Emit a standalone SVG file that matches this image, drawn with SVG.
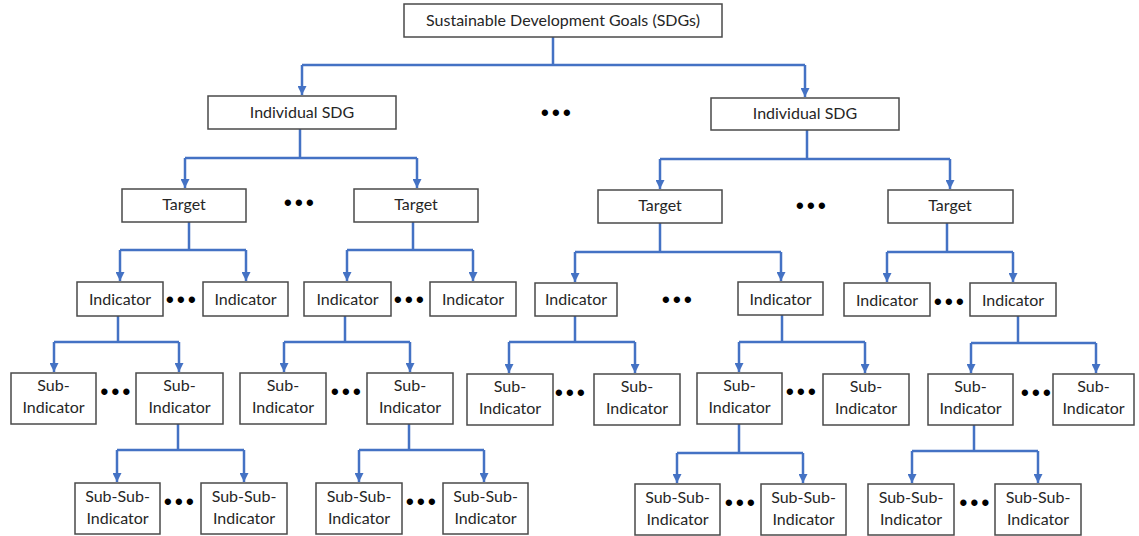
<svg xmlns="http://www.w3.org/2000/svg" width="1139" height="536" viewBox="0 0 1139 536">
<defs>
<marker id="ah" markerWidth="9" markerHeight="9" refX="9" refY="4.5" orient="auto" markerUnits="userSpaceOnUse" viewBox="0 0 9 9">
<path d="M0,0 L9,4.5 L0,9 Z" fill="#4472C4"/>
</marker>
<style>
.b{fill:#fff;stroke:#4a4a4a;stroke-width:1.5}
.t{font-family:Lato,"Liberation Sans",sans-serif;font-size:16px;fill:#262626;text-anchor:middle}
.d{font-family:"Liberation Sans",Arial,sans-serif;font-size:22px;font-weight:bold;fill:#000;text-anchor:middle;letter-spacing:3.3px}
.c{fill:none;stroke:#4472C4;stroke-width:2.5}
.a{fill:none;stroke:#4472C4;stroke-width:2.5;marker-end:url(#ah)}
</style>
</defs>
<rect width="1139" height="536" fill="#fff"/>
<g id="connectors">
<path class="c" d="M553 37V65M302 65H805"/>
<path class="a" d="M302 65V95"/>
<path class="a" d="M805 65V97"/>
<path class="c" d="M300 129V158M185 158H417"/>
<path class="a" d="M185 158V188"/>
<path class="a" d="M417 158V188"/>
<path class="c" d="M807 130V159M660 159H950"/>
<path class="a" d="M660 159V189"/>
<path class="a" d="M950 159V189"/>
<path class="c" d="M189 222V250M120 250H246"/>
<path class="a" d="M120 250V281"/>
<path class="a" d="M246 250V281"/>
<path class="c" d="M413 222V250M347 250H473"/>
<path class="a" d="M347 250V281"/>
<path class="a" d="M473 250V281"/>
<path class="c" d="M660 223V252M575 252H781"/>
<path class="a" d="M575 252V282"/>
<path class="a" d="M781 252V281"/>
<path class="c" d="M947 223V252M887 252H1013"/>
<path class="a" d="M887 252V282"/>
<path class="a" d="M1013 252V282"/>
<path class="c" d="M118 316V342M54 342H179"/>
<path class="a" d="M54 342V372"/>
<path class="a" d="M179 342V372"/>
<path class="c" d="M345 316V342M284 342H410"/>
<path class="a" d="M284 342V372"/>
<path class="a" d="M410 342V372"/>
<path class="c" d="M575 316V342M509 342H635"/>
<path class="a" d="M509 342V373"/>
<path class="a" d="M635 342V373"/>
<path class="c" d="M782 315V342M739 342H865"/>
<path class="a" d="M739 342V372"/>
<path class="a" d="M865 342V373"/>
<path class="c" d="M1018 316V343M971 343H1096"/>
<path class="a" d="M971 343V373"/>
<path class="a" d="M1096 343V373"/>
<path class="c" d="M178 424V450M117 450H244"/>
<path class="a" d="M117 450V482"/>
<path class="a" d="M244 450V482"/>
<path class="c" d="M409 424V450M359 450H484"/>
<path class="a" d="M359 450V482"/>
<path class="a" d="M484 450V482"/>
<path class="c" d="M739 424V453M677 453H803"/>
<path class="a" d="M677 453V483"/>
<path class="a" d="M803 453V483"/>
<path class="c" d="M974 425V451M912 451H1038"/>
<path class="a" d="M912 451V483"/>
<path class="a" d="M1038 451V483"/>
</g>
<g id="sdgs"><rect class="b" x="404" y="4" width="318" height="33"/><text class="t" x="563" y="26">Sustainable Development Goals (SDGs)</text></g>
<g id="sdg1"><rect class="b" x="208" y="96" width="188" height="33"/><text class="t" x="302" y="118">Individual SDG</text></g>
<g id="sdg2"><rect class="b" x="711" y="98" width="188" height="32"/><text class="t" x="805" y="119">Individual SDG</text></g>
<g id="target1"><rect class="b" x="122" y="189" width="124" height="33"/><text class="t" x="184" y="210">Target</text></g>
<g id="target2"><rect class="b" x="354" y="189" width="124" height="33"/><text class="t" x="416" y="210">Target</text></g>
<g id="target3"><rect class="b" x="598" y="190" width="124" height="33"/><text class="t" x="660" y="211">Target</text></g>
<g id="target4"><rect class="b" x="888" y="190" width="125" height="33"/><text class="t" x="950" y="211">Target</text></g>
<g id="ind1"><rect class="b" x="77" y="282" width="86" height="34"/><text class="t" x="120" y="305">Indicator</text></g>
<g id="ind2"><rect class="b" x="203" y="282" width="85" height="34"/><text class="t" x="245.5" y="305">Indicator</text></g>
<g id="ind3"><rect class="b" x="304" y="282" width="87" height="34"/><text class="t" x="347.5" y="305">Indicator</text></g>
<g id="ind4"><rect class="b" x="430" y="282" width="86" height="34"/><text class="t" x="473" y="305">Indicator</text></g>
<g id="ind5"><rect class="b" x="535" y="283" width="82" height="33"/><text class="t" x="576" y="305">Indicator</text></g>
<g id="ind6"><rect class="b" x="738" y="282" width="85" height="33"/><text class="t" x="780.5" y="305">Indicator</text></g>
<g id="ind7"><rect class="b" x="844" y="283" width="86" height="33"/><text class="t" x="887" y="306">Indicator</text></g>
<g id="ind8"><rect class="b" x="970" y="283" width="86" height="33"/><text class="t" x="1013" y="306">Indicator</text></g>
<g id="sub1"><rect class="b" x="11" y="373" width="85" height="51"/><text class="t" x="53.5" y="391">Sub-</text><text class="t" x="53.5" y="413">Indicator</text></g>
<g id="sub2"><rect class="b" x="136" y="373" width="87" height="51"/><text class="t" x="179.5" y="391">Sub-</text><text class="t" x="179.5" y="413">Indicator</text></g>
<g id="sub3"><rect class="b" x="240" y="373" width="86" height="51"/><text class="t" x="283" y="391">Sub-</text><text class="t" x="283" y="413">Indicator</text></g>
<g id="sub4"><rect class="b" x="367" y="373" width="86" height="51"/><text class="t" x="410" y="391">Sub-</text><text class="t" x="410" y="413">Indicator</text></g>
<g id="sub5"><rect class="b" x="467" y="374" width="86" height="51"/><text class="t" x="510" y="392">Sub-</text><text class="t" x="510" y="414">Indicator</text></g>
<g id="sub6"><rect class="b" x="594" y="374" width="86" height="51"/><text class="t" x="637" y="392">Sub-</text><text class="t" x="637" y="414">Indicator</text></g>
<g id="sub7"><rect class="b" x="697" y="373" width="85" height="51"/><text class="t" x="739.5" y="391">Sub-</text><text class="t" x="739.5" y="413">Indicator</text></g>
<g id="sub8"><rect class="b" x="823" y="374" width="86" height="51"/><text class="t" x="866" y="392">Sub-</text><text class="t" x="866" y="414">Indicator</text></g>
<g id="sub9"><rect class="b" x="928" y="374" width="85" height="51"/><text class="t" x="970.5" y="392">Sub-</text><text class="t" x="970.5" y="414">Indicator</text></g>
<g id="sub10"><rect class="b" x="1053" y="374" width="81" height="51"/><text class="t" x="1093.5" y="392">Sub-</text><text class="t" x="1093.5" y="414">Indicator</text></g>
<g id="subsub1"><rect class="b" x="75" y="483" width="85" height="51"/><text class="t" x="117.5" y="502">Sub-Sub-</text><text class="t" x="117.5" y="524">Indicator</text></g>
<g id="subsub2"><rect class="b" x="201" y="483" width="86" height="51"/><text class="t" x="244" y="502">Sub-Sub-</text><text class="t" x="244" y="524">Indicator</text></g>
<g id="subsub3"><rect class="b" x="316" y="483" width="86" height="51"/><text class="t" x="359" y="502">Sub-Sub-</text><text class="t" x="359" y="524">Indicator</text></g>
<g id="subsub4"><rect class="b" x="443" y="483" width="85" height="51"/><text class="t" x="485.5" y="502">Sub-Sub-</text><text class="t" x="485.5" y="524">Indicator</text></g>
<g id="subsub5"><rect class="b" x="635" y="484" width="85" height="51"/><text class="t" x="677.5" y="503">Sub-Sub-</text><text class="t" x="677.5" y="525">Indicator</text></g>
<g id="subsub6"><rect class="b" x="761" y="484" width="85" height="51"/><text class="t" x="803.5" y="503">Sub-Sub-</text><text class="t" x="803.5" y="525">Indicator</text></g>
<g id="subsub7"><rect class="b" x="868" y="484" width="86" height="51"/><text class="t" x="911" y="503">Sub-Sub-</text><text class="t" x="911" y="525">Indicator</text></g>
<g id="subsub8"><rect class="b" x="995" y="484" width="86" height="51"/><text class="t" x="1038" y="503">Sub-Sub-</text><text class="t" x="1038" y="525">Indicator</text></g>
<g id="ellipses">
<text class="d" x="557.5" y="120">•••</text>
<text class="d" x="300.5" y="210">•••</text>
<text class="d" x="812.5" y="213">•••</text>
<text class="d" x="182.5" y="307">•••</text>
<text class="d" x="410.5" y="307">•••</text>
<text class="d" x="678.5" y="307">•••</text>
<text class="d" x="950.5" y="309">•••</text>
<text class="d" x="117" y="399">•••</text>
<text class="d" x="347.5" y="399">•••</text>
<text class="d" x="571.5" y="400">•••</text>
<text class="d" x="802.5" y="399">•••</text>
<text class="d" x="1037.5" y="400">•••</text>
<text class="d" x="180.5" y="509">•••</text>
<text class="d" x="422.5" y="509">•••</text>
<text class="d" x="741.5" y="510">•••</text>
<text class="d" x="976" y="510">•••</text>
</g>
</svg>
